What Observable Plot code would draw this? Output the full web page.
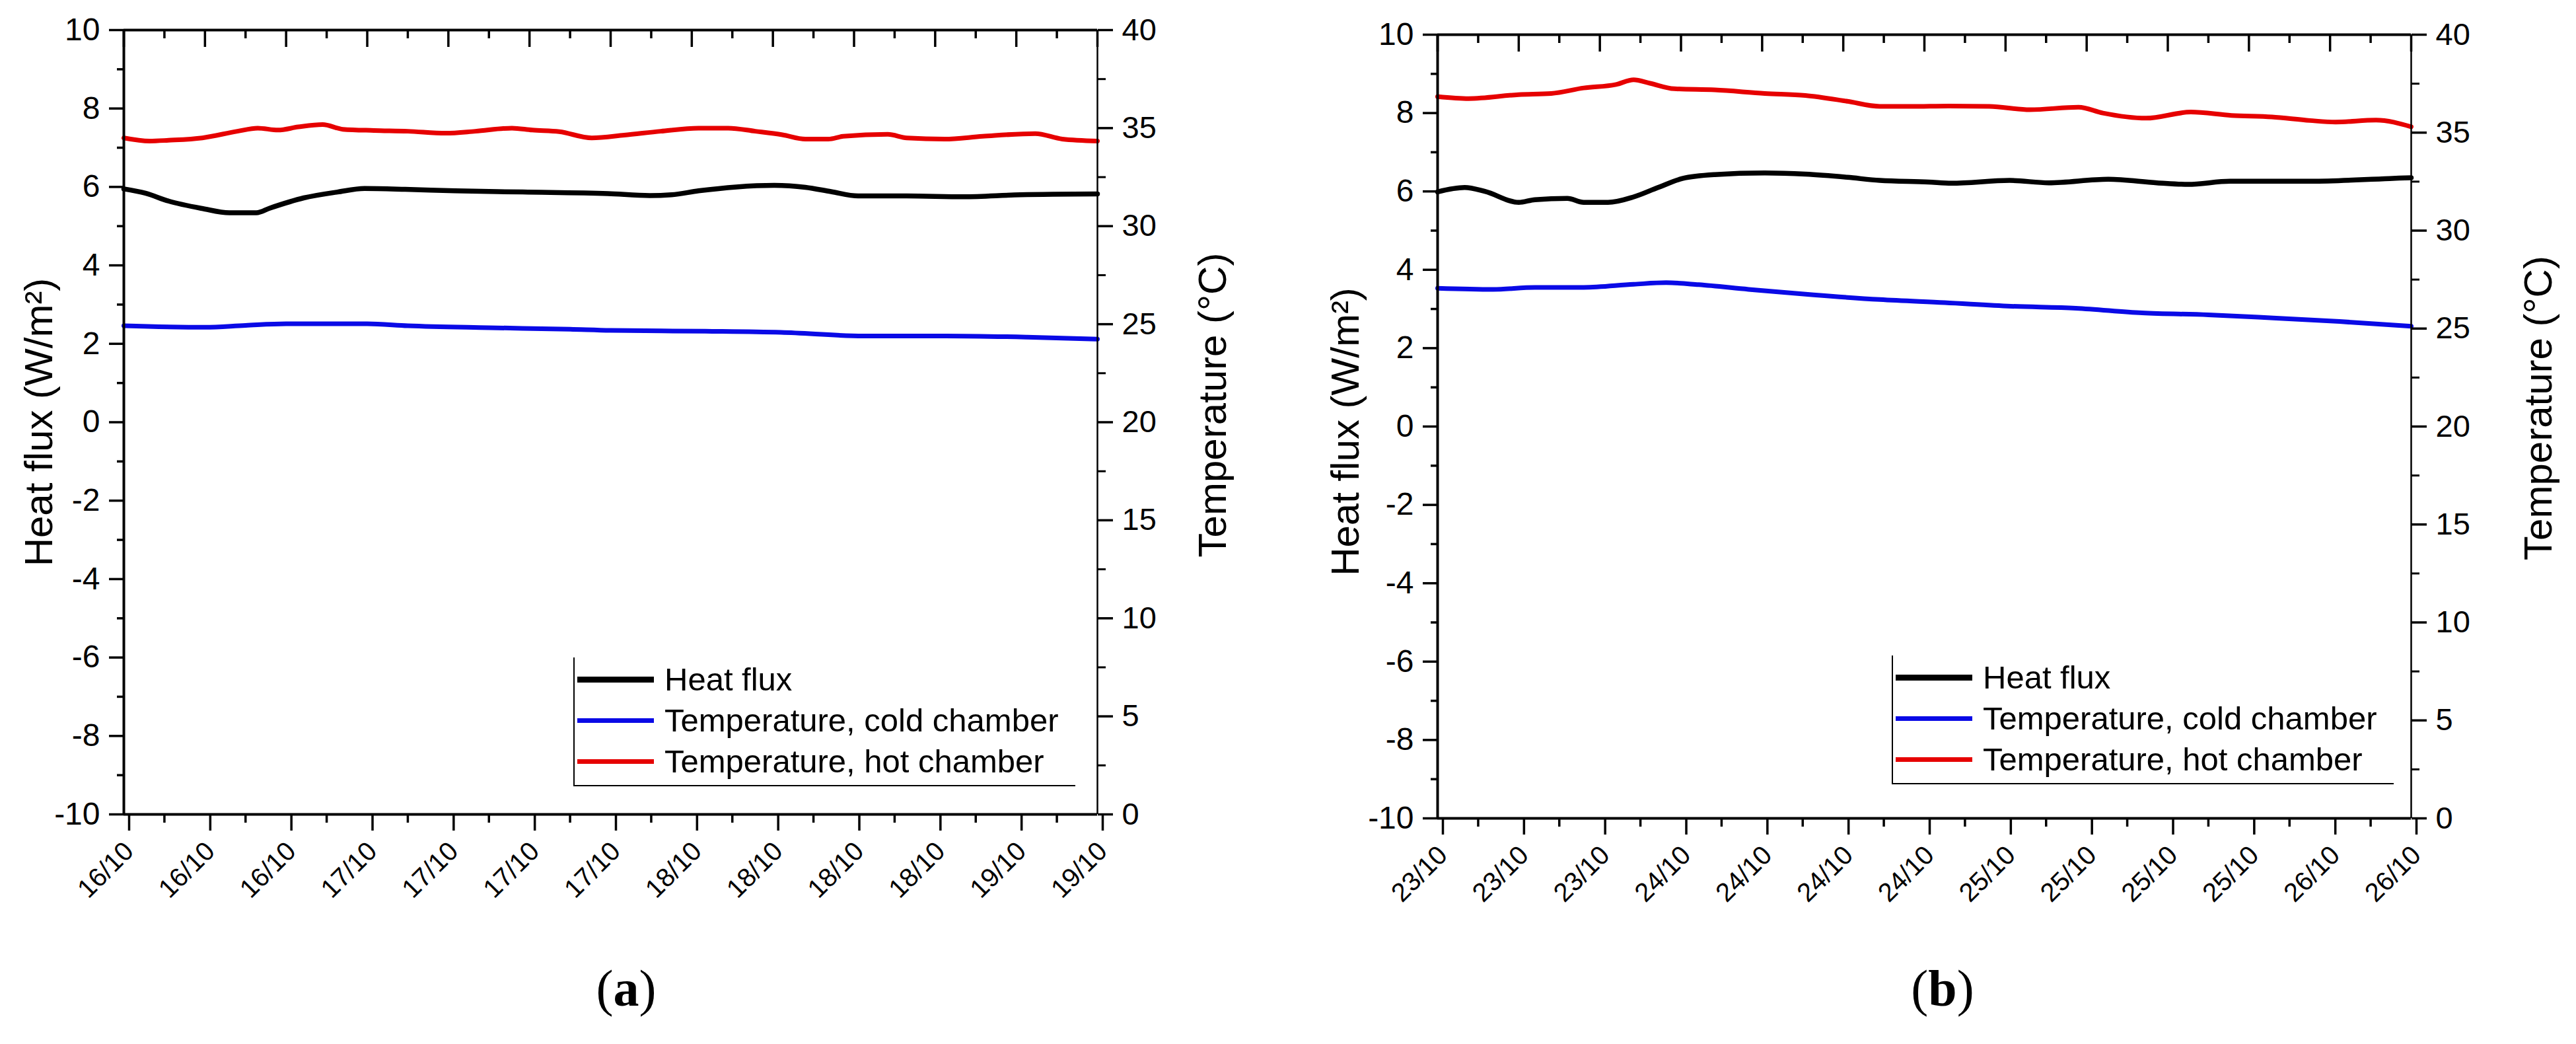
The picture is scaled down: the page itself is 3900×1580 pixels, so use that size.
<!DOCTYPE html>
<html><head><meta charset="utf-8">
<script src="https://cdn.jsdelivr.net/npm/d3@7"></script>
<script src="https://cdn.jsdelivr.net/npm/@observablehq/plot@0.6"></script>
<style>
html,body{margin:0;padding:0;background:#fff;}
#wrap{display:flex;width:3900px;height:1580px;}
.panel{position:relative;width:1950px;height:1580px;}
.caption{position:absolute;top:1457px;font-family:"Liberation Serif","DejaVu Serif",serif;font-size:78px;line-height:78px;transform:translateX(-50%);white-space:nowrap;color:#000;}
.caption b{font-weight:bold;}
.legend{position:absolute;border-left:2px solid #000;border-bottom:2px solid #000;font-family:"Liberation Sans",Arial,sans-serif;font-size:49px;color:#000;}
.row{position:absolute;left:0;height:0;white-space:nowrap;}
.sw{position:absolute;left:4px;width:116px;}
.lt{position:absolute;left:136px;top:0;transform:translateY(-50%);line-height:56px;}
</style></head><body><div id="wrap"></div>
<script>
// ---------- data (hours after the first tick, 06:00 of the first day) ----------
const HOUR = 3600e3;
const startA = Date.UTC(2015, 9, 16, 6);
const startB = Date.UTC(2015, 9, 23, 6);
const spanHours = 72;

const majorTickHours = [0, 6, 12, 18, 24, 30, 36, 42, 48, 54, 60, 66, 72];
const minorTickHours = [3, 9, 15, 21, 27, 33, 39, 45, 51, 57, 63, 69];
const fluxDomain = [-10, 10];
const tempDomain = [0, 40];
const fluxTicks = [-10, -8, -6, -4, -2, 0, 2, 4, 6, 8, 10];
const fluxMinorTicks = [-9, -7, -5, -3, -1, 1, 3, 5, 7, 9];
const tempTicks = [0, 5, 10, 15, 20, 25, 30, 35, 40];
const tempMinorTicks = [2.5, 7.5, 12.5, 17.5, 22.5, 27.5, 32.5, 37.5];

const seriesNames = ["Heat flux", "Temperature, cold chamber", "Temperature, hot chamber"];
const seriesColors = ["#000000", "#0a0ae6", "#e60000"];

// Panel (a) heat flux (W/m2)
const fluxA_h = [0, 1.6, 3.3, 5.8, 7.8, 9.8, 10.8, 13.3, 15.8, 17.8, 20.8, 24.5, 29.5, 35.8, 38.9, 40.5, 42.5, 45.3, 48.1, 50.4, 52.3, 54.3, 57.9, 62.1, 66.3, 72];
const fluxA_v = [5.95, 5.84, 5.64, 5.45, 5.34, 5.34, 5.46, 5.72, 5.87, 5.96, 5.94, 5.9, 5.87, 5.83, 5.78, 5.8, 5.9, 6.0, 6.04, 5.99, 5.88, 5.77, 5.77, 5.75, 5.8, 5.82];
// Panel (a) cold chamber temperature (°C)
const coldA_h = [0, 6, 9, 12, 18, 21, 27, 33, 36, 43, 48.6, 54.7, 60.8, 66.8, 72];
const coldA_v = [24.92, 24.84, 24.94, 25.02, 25.02, 24.92, 24.82, 24.74, 24.68, 24.64, 24.58, 24.4, 24.4, 24.34, 24.24];
// Panel (a) hot chamber temperature (°C)
const hotA_h = [0, 1.9, 3.3, 5.8, 8.4, 9.9, 11.4, 12.9, 14.7, 16.2, 18.5, 21, 23.8, 26, 28.7, 30.2, 32.2, 34.6, 37, 39.7, 42.5, 44.7, 46.7, 48.7, 50.4, 52.1, 53.2, 56.5, 57.9, 60.7, 63.5, 67.4, 69.4, 72];
const hotA_v = [34.5, 34.34, 34.38, 34.5, 34.84, 35.0, 34.9, 35.06, 35.18, 34.94, 34.88, 34.84, 34.74, 34.84, 35.0, 34.9, 34.82, 34.5, 34.64, 34.84, 35.0, 35.0, 34.84, 34.66, 34.44, 34.44, 34.58, 34.68, 34.5, 34.44, 34.58, 34.72, 34.44, 34.34];

// Panel (b) heat flux (W/m2)
const fluxB_h = [0, 2, 3.5, 6, 7.2, 9.6, 10.8, 12.6, 14.5, 16.3, 18.1, 20.5, 24.2, 27.2, 30.3, 32.7, 36.3, 38, 42.3, 45.2, 49.6, 53.2, 55.5, 58.6, 64.6, 70.4, 72];
const fluxB_v = [5.99, 6.1, 6.0, 5.72, 5.79, 5.82, 5.72, 5.72, 5.86, 6.1, 6.33, 6.43, 6.47, 6.44, 6.36, 6.28, 6.24, 6.21, 6.28, 6.22, 6.31, 6.22, 6.18, 6.26, 6.26, 6.33, 6.35];
// Panel (b) cold chamber temperature (°C)
const coldB_h = [0, 4.1, 7.2, 10.8, 14.5, 16.9, 19.3, 23, 27.8, 32.7, 37.5, 42.4, 47.2, 52.1, 57, 61.8, 66.7, 72];
const coldB_v = [27.06, 27.0, 27.1, 27.1, 27.26, 27.34, 27.24, 27.0, 26.72, 26.48, 26.32, 26.14, 26.04, 25.8, 25.7, 25.54, 25.36, 25.12];
// Panel (b) hot chamber temperature (°C)
const hotB_h = [0, 2.3, 6, 8.4, 10.8, 13.2, 14.5, 15.7, 17.5, 20.5, 24.2, 27.2, 30.3, 32.7, 35, 37.8, 40.8, 43.8, 47.4, 49.2, 52.4, 55.7, 58.7, 61.7, 64.5, 66.4, 69.4, 72];
const hotB_v = [36.84, 36.74, 36.94, 37.0, 37.28, 37.46, 37.7, 37.52, 37.24, 37.18, 37.0, 36.9, 36.6, 36.34, 36.34, 36.36, 36.34, 36.17, 36.3, 36.0, 35.74, 36.05, 35.88, 35.8, 35.62, 35.54, 35.64, 35.3];

// ---------- helpers ----------
const k = (fluxDomain[1] - fluxDomain[0]) / (tempDomain[1] - tempDomain[0]);
const toFlux = t => fluxDomain[0] + (t - tempDomain[0]) * k;
const fromFlux = v => tempDomain[0] + (v - fluxDomain[0]) / k;
const fmt = d3.utcFormat("%d/%m");
const series = (start, hs, vs) => hs.map((h, i) => ({date: new Date(start + h * HOUR), v: vs[i]}));

function panel(cfg) {
  const x0 = new Date(cfg.start), x1 = new Date(cfg.start + spanHours * HOUR);
  const major = majorTickHours.map(h => new Date(cfg.start + h * HOUR));
  const minor = minorTickHours.map(h => new Date(cfg.start + h * HOUR));
  const blank = () => "";
  return Plot.plot({
    width: 1950, height: 1420,
    marginLeft: cfg.ml, marginRight: cfg.mr, marginTop: cfg.mt, marginBottom: 1420 - cfg.bottom,
    x: {type: "utc", domain: [x0, x1], axis: null},
    y: {domain: fluxDomain, axis: null},
    style: {fontFamily: "'Liberation Sans', Arial, sans-serif", background: "white", color: "black", overflow: "visible"},
    marks: [
      // data
      Plot.line(cfg.hot, {x: "date", y: d => toFlux(d.v), stroke: seriesColors[2], strokeWidth: 7, curve: "monotone-x"}),
      Plot.line(cfg.cold, {x: "date", y: d => toFlux(d.v), stroke: seriesColors[1], strokeWidth: 7, curve: "monotone-x"}),
      Plot.line(cfg.flux, {x: "date", y: "v", stroke: seriesColors[0], strokeWidth: 7.5, curve: "monotone-x"}),
      // frame
      Plot.ruleY([fluxDomain[0]], {strokeWidth: 4}),
      Plot.ruleY([fluxDomain[1]], {strokeWidth: 4}),
      Plot.ruleX([x0], {strokeWidth: 4}),
      Plot.ruleX([x1], {strokeWidth: 2.5}),
      // left axis
      Plot.axisY({ticks: fluxMinorTicks, tickSize: 10, tickFormat: blank, strokeWidth: 3.5, label: null}),
      Plot.axisY({ticks: fluxTicks, tickSize: 22, tickPadding: 14, tickFormat: d => String(d), fontSize: 48, strokeWidth: 3.5, label: null}),
      // right axis (temperature)
      Plot.axisY({anchor: "right", ticks: tempMinorTicks.map(toFlux), tickSize: 12, tickFormat: blank, strokeWidth: 3, label: null}),
      Plot.axisY({anchor: "right", ticks: tempTicks.map(toFlux), tickSize: 23, tickPadding: 14, tickFormat: v => String(fromFlux(v)), fontSize: 47, strokeWidth: 3.5, label: null}),
      // bottom axis
      Plot.axisX({ticks: minor, tickSize: 13, tickFormat: blank, strokeWidth: 3.5, label: null}),
      Plot.axisX({ticks: major, tickSize: 25, tickPadding: 24, dx: 8, tickFormat: fmt, tickRotate: -45, fontSize: 40, strokeWidth: 3.5, label: null}),
      // top axis (inward ticks)
      Plot.axisX({anchor: "top", ticks: minor, tickSize: -12, tickFormat: blank, strokeWidth: 3.5, label: null}),
      Plot.axisX({anchor: "top", ticks: major, tickSize: -25, tickFormat: blank, strokeWidth: 3.5, label: null}),
      // axis titles
      Plot.text(["Heat flux (W/m²)"], {frameAnchor: "left", rotate: -90, dx: cfg.ltx, dy: cfg.lty, fontSize: 60, fill: "black", textAnchor: "middle", lineAnchor: "middle"}),
      Plot.text(["Temperature (°C)"], {frameAnchor: "right", rotate: -90, dx: cfg.rtx, dy: cfg.rty, fontSize: 60, fill: "black", textAnchor: "middle", lineAnchor: "middle"})
    ]
  });
}

function legend(el, left, top) {
  const box = document.createElement("div");
  box.className = "legend";
  box.style.left = left + "px"; box.style.top = top + "px";
  box.style.width = "758px"; box.style.height = "193px";
  const rowsY = [33, 95, 157];
  seriesNames.forEach((name, i) => {
    const r = document.createElement("div");
    r.className = "row"; r.style.top = rowsY[i] + "px";
    const sw = document.createElement("div");
    sw.className = "sw";
    const t = i === 0 ? 9 : 7;
    sw.style.height = t + "px"; sw.style.top = (-t / 2) + "px"; sw.style.background = seriesColors[i];
    const tx = document.createElement("div");
    tx.className = "lt"; tx.textContent = name;
    r.appendChild(sw); r.appendChild(tx); box.appendChild(r);
  });
  el.appendChild(box);
}

const wrap = document.getElementById("wrap");
const cfgs = [
  {start: startA, ml: 187, mr: 289, mt: 45, bottom: 1232, ltx: -128, lty: 0, rtx: 175, rty: -26,
   flux: series(startA, fluxA_h, fluxA_v), cold: series(startA, coldA_h, coldA_v), hot: series(startA, hotA_h, hotA_v),
   legL: 868, legT: 995, cap: "a", capX: 948},
  {start: startB, ml: 226, mr: 250, mt: 52, bottom: 1238, ltx: -139, lty: 8, rtx: 193, rty: -28,
   flux: series(startB, fluxB_h, fluxB_v), cold: series(startB, coldB_h, coldB_v), hot: series(startB, hotB_h, hotB_v),
   legL: 914, legT: 992, cap: "b", capX: 991}
];
cfgs.forEach(cfg => {
  const p = document.createElement("div");
  p.className = "panel";
  p.appendChild(panel(cfg));
  legend(p, cfg.legL, cfg.legT);
  const c = document.createElement("div");
  c.className = "caption"; c.style.left = cfg.capX + "px";
  c.innerHTML = "(<b>" + cfg.cap + "</b>)";
  p.appendChild(c);
  wrap.appendChild(p);
});
</script></body></html>
